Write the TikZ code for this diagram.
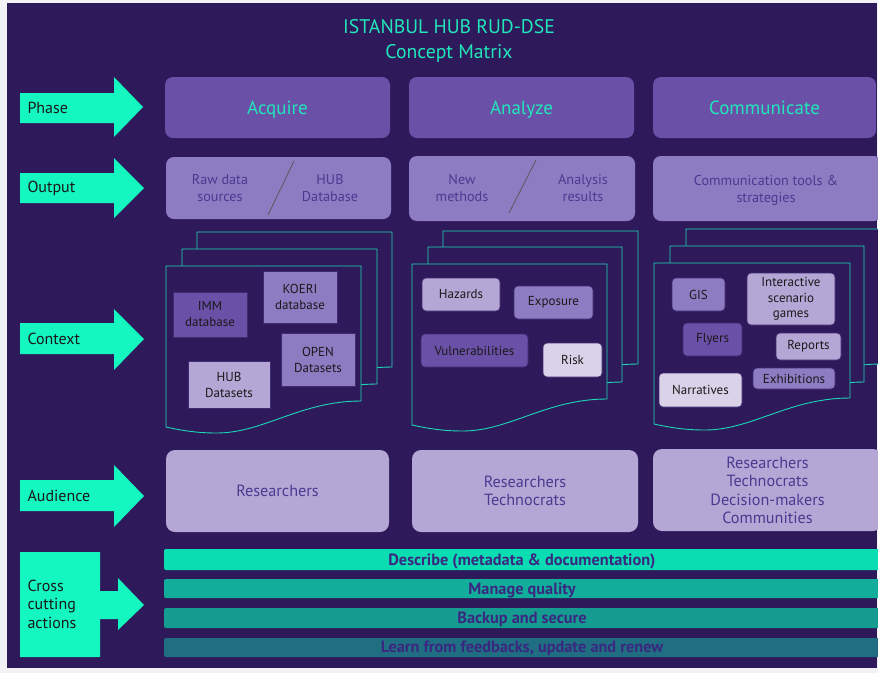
\documentclass[tikz,border=0pt]{standalone}
\usepackage{fontspec}
\setmainfont{PT Sans}
\usetikzlibrary{fit}
\definecolor{bg}{HTML}{2E1A5B}
\definecolor{marg}{HTML}{F2F2F6}
\definecolor{mint}{HTML}{14F7C0}
\definecolor{ttl}{HTML}{22E6BA}
\definecolor{pcol}{HTML}{6A50A7}
\definecolor{ocol}{HTML}{8E7CC3}
\definecolor{acol}{HTML}{B4A7D6}
\definecolor{lcol}{HTML}{D9D2E9}
\definecolor{dtext}{HTML}{4A3A90}
\definecolor{btext}{HTML}{3A2780}
\definecolor{pageline}{HTML}{1DD6B4}
\definecolor{barA}{HTML}{0BDDB3}
\definecolor{barB}{HTML}{12AD9B}
\definecolor{barC}{HTML}{169B91}
\definecolor{barD}{HTML}{206E82}
\newcommand\docpg[4]{%
  \filldraw[page] (#1,#2) -- (#3,#2) -- (#3,#4)
    .. controls ({#3-0.31*(#3-#1)},#4) and ({#1+0.5*(#3-#1)},{#4+32}) .. ({#1+0.26*(#3-#1)},{#4+32})
    .. controls ({#1+0.15*(#3-#1)},{#4+32}) and ({#1+0.07*(#3-#1)},{#4+29}) .. (#1,{#4+26}) -- cycle;}
\begin{document}
\begin{tikzpicture}[x=1pt,y=-1pt,
  page/.style={fill=bg,draw=pageline,line width=0.9pt},
  arr/.style={fill=mint},
  lbl/.style={anchor=west,text=black!90,font=\fontsize{16}{18.5}\selectfont,align=left},
  phbox/.style={fill=pcol,rounded corners=8pt,inner sep=0pt},
  phtext/.style={text=ttl,font=\fontsize{19}{22}\selectfont,text height=13.5pt,text depth=4pt},
  obox/.style={fill=ocol,rounded corners=8pt,inner sep=0pt},
  otext/.style={text=dtext,font=\fontsize{14.2}{17}\selectfont,align=center},
  aubox/.style={fill=acol,rounded corners=9pt,inner sep=0pt},
  autext/.style={text=dtext,font=\fontsize{16.2}{18.4}\selectfont,align=center},
  cbox/.style={draw=bg!70!pcol,line width=0.6pt,inner sep=0pt},
  rbox/.style={cbox,rounded corners=4pt},
  ctext/.style={text=black!90,font=\fontsize{13}{16}\selectfont,align=center},
  bar/.style={rounded corners=2pt,inner sep=0pt},
  btxt/.style={text=btext,font=\bfseries\fontsize{16.3}{18}\selectfont}
]
\useasboundingbox (0,0) rectangle (878,673);
\fill[marg] (0,0) rectangle (878,673);
\fill[bg] (7,3) rectangle (877,668);
\begin{scope}
\clip (7,3) rectangle (878,668);

% title
\node[text=ttl,font=\fontsize{19.7}{25}\selectfont,align=center] (title) at (449,41) {ISTANBUL HUB RUD-DSE\\Concept Matrix};

% left arrows
\fill[arr] (20,93) -- (114,93) -- (114,77) -- (143,107) -- (114,137) -- (114,123) -- (20,123) -- cycle;
\node[lbl] (lphase) at (24,108) {Phase};
\fill[arr] (20,173) -- (114,173) -- (114,158) -- (144,188) -- (114,218) -- (114,203) -- (20,203) -- cycle;
\node[lbl] (loutput) at (24,188) {Output};
\fill[arr] (20,323) -- (114,323) -- (114,309) -- (144,339) -- (114,370) -- (114,354) -- (20,354) -- cycle;
\node[lbl] (lcontext) at (24,339) {Context};
\fill[arr] (20,480) -- (114,480) -- (114,465) -- (144,496) -- (114,527) -- (114,511) -- (20,511) -- cycle;
\node[lbl] (laudience) at (24,496) {Audience};
\fill[arr] (20,552) -- (100,552) -- (100,591) -- (118,591) -- (118,578) -- (144,605) -- (118,630) -- (118,619) -- (100,619) -- (100,657) -- (20,657) -- cycle;
\node[lbl] (lcross) at (24,604) {Cross\\cutting\\actions};

% phase row
\node[phbox,fit={(165,77) (390,138)}] (pacq) {};
\node[phtext] (pacqt) at ([yshift=-2.5pt]pacq.center) {Acquire};
\node[phbox,fit={(409,77) (634,138)}] (pana) {};
\node[phtext] (panat) at ([yshift=-2.5pt]pana.center) {Analyze};
\node[phbox,fit={(653,77) (876,138)}] (pcom) {};
\node[phtext] (pcomt) at ([yshift=-2.5pt]pcom.center) {Communicate};

% output row
\node[obox,fit={(166,157) (391,219)}] (oacq) {};
\node[otext] (oacq1) at (220,188) {Raw data\\sources};
\node[otext] (oacq2) at (330,188) {HUB\\Database};
\draw[gray!70!black,line width=0.8pt] (268,215) -- (294,161);
\node[obox,fit={(409,156) (635,221)}] (oana) {};
\node[otext] (oana1) at (462,188) {New\\methods};
\node[otext] (oana2) at (583,188) {Analysis\\results};
\draw[gray!70!black,line width=0.8pt] (509,213) -- (536,160);
\node[obox,fit={(653,156) (882,221)}] (ocom) {};
\node[otext] (ocom1) at (766,190) {Communication tools \&\\strategies};

% context pages
\docpg{197}{232}{392}{367}
\docpg{182}{249}{377}{384}
\docpg{166}{266}{361}{401}
\docpg{443}{231}{638}{364}
\docpg{428}{247}{622}{382}
\docpg{412}{264}{607}{399}
\docpg{686}{229}{881}{364}
\docpg{670}{246}{864}{382}
\docpg{654}{263}{850}{398}

% acquire context boxes
\node[cbox,fill=pcol,fit={(173,292) (247,337)}] (imm) {};
\node[ctext] (immt) at (imm.center) {IMM\\database};
\node[cbox,fill=ocol,fit={(263,271) (337,323)}] (koeri) {};
\node[ctext] (koerit) at (koeri.center) {KOERI\\database};
\node[cbox,fill=ocol,fit={(281,333) (355,386)}] (open) {};
\node[ctext] (opent) at (open.center) {OPEN\\Datasets};
\node[cbox,fill=acol,fit={(188,361) (270,408)}] (hub) {};
\node[ctext] (hubt) at (hub.center) {HUB\\Datasets};

% analyze context boxes
\node[rbox,fill=acol,fit={(422,278) (500,311)}] (haz) {};
\node[ctext] (hazt) at (haz.center) {Hazards};
\node[rbox,fill=ocol,fit={(514,286) (593,319)}] (expo) {};
\node[ctext] (expot) at (expo.center) {Exposure};
\node[rbox,fill=pcol,fit={(421,334) (528,367)}] (vul) {};
\node[ctext] (vult) at (vul.center) {Vulnerabilities};
\node[rbox,fill=lcol,fit={(543,343) (602,377)}] (risk) {};
\node[ctext] (riskt) at (risk.center) {Risk};

% communicate context boxes
\node[rbox,fill=ocol,fit={(672,278) (725,311)}] (gis) {};
\node[ctext] (gist) at (gis.center) {GIS};
\node[rbox,fill=acol,fit={(747,273) (835,325)}] (game) {};
\node[ctext,font=\fontsize{13}{15.5}\selectfont] (gamet) at (game.center) {Interactive\\scenario\\games};
\node[rbox,fill=pcol,fit={(683,323) (742,356)}] (fly) {};
\node[ctext] (flyt) at (fly.center) {Flyers};
\node[rbox,fill=acol,fit={(776,333) (841,360)}] (rep) {};
\node[ctext] (rept) at (rep.center) {Reports};
\node[rbox,fill=ocol,fit={(753,368) (835,389)}] (exh) {};
\node[ctext] (exht) at (exh.center) {Exhibitions};
\node[rbox,fill=lcol,fit={(659,373) (742,407)}] (nar) {};
\node[ctext] (nart) at (nar.center) {Narratives};

% audience row
\node[aubox,fit={(166,450) (389,532)}] (aacq) {};
\node[autext] (aacqt) at (aacq.center) {Researchers};
\node[aubox,fit={(412,450) (638,532)}] (aana) {};
\node[autext] (aanat) at (aana.center) {Researchers\\Technocrats};
\node[aubox,fit={(653,449) (882,531)}] (acom) {};
\node[autext] (acomt) at ([yshift=-0.5pt]acom.center) {Researchers\\Technocrats\\Decision-makers\\Communities};

% cross cutting bars
\node[bar,fill=barA,fit={(164,549) (884,570)}] (b1) {};
\node[btxt] (b1t) at (522,561) {Describe (metadata \& documentation)};
\node[bar,fill=barB,fit={(164,579) (884,598)}] (b2) {};
\node[btxt] (b2t) at (522,590) {Manage quality};
\node[bar,fill=barC,fit={(164,608) (884,628)}] (b3) {};
\node[btxt] (b3t) at (522,619) {Backup and secure};
\node[bar,fill=barD,fit={(164,638) (884,657)}] (b4) {};
\node[btxt] (b4t) at (522,648) {Learn from feedbacks, update and renew};
\end{scope}
\end{tikzpicture}
\end{document}
